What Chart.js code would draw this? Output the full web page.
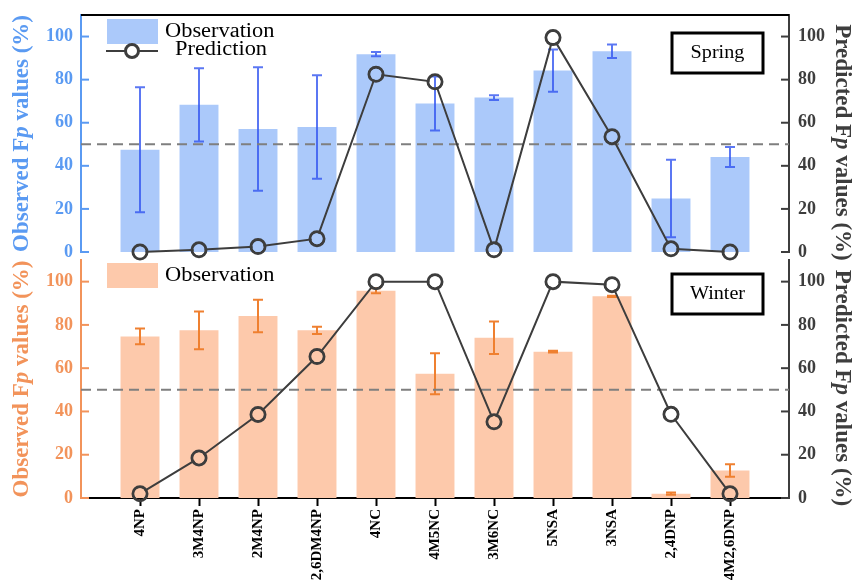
<!DOCTYPE html>
<html>
<head>
<meta charset="utf-8">
<script src="https://cdn.jsdelivr.net/npm/chart.js@4.4.0/dist/chart.umd.min.js"></script>
<style>
  body { margin: 0; background: #fff; }
  canvas { position: absolute; left: 0; }
  #top { top: 0; }
  #bottom { top: 246px; }
</style>
</head>
<body>
<canvas id="top" width="853" height="264"></canvas>
<canvas id="bottom" width="853" height="337"></canvas>
<script>
// data
var categories = ['4NP', '3M4NP', '2M4NP', '2,6DM4NP', '4NC', '4M5NC', '3M6NC', '5NSA', '3NSA', '2,4DNP', '4M2,6DNP'];
var springObs  = [47.5, 68.3, 57.1, 58.0, 91.8, 68.9, 71.7, 84.2, 93.2, 24.8, 44.1];
var springErr  = [29.0, 17.0, 28.7, 24.0, 1.0, 12.5, 1.1, 9.8, 3.1, 18.0, 4.6];
var springPred = [0, 1.0, 2.5, 6.2, 82.5, 79, 1.0, 99.5, 53.5, 1.5, 0];
var winterObs  = [74.7, 77.5, 84.1, 77.5, 95.8, 57.4, 74.1, 67.6, 93.2, 2.0, 12.7];
var winterErr  = [3.6, 8.7, 7.5, 1.7, 1.2, 9.5, 7.5, 0.4, 0.3, 0.5, 2.9];
var winterPred = [2, 18.5, 38.6, 65.4, 100, 100, 35.2, 100, 98.6, 38.7, 2];
var yTicks = [0, 20, 40, 60, 80, 100];
var threshold = 50;

var serif = "'Liberation Serif', 'Times New Roman', serif";
var dark = '#3d3d3d';
Chart.defaults.font.family = serif;

// empty slot at each end so the categories sit one step in from the axes
function pad(a) { return [null].concat(a, [null]); }

function drawTitle(ctx, x, y, rot, color, parts, size) {
  ctx.save();
  ctx.translate(x, y);
  ctx.rotate(rot);
  ctx.fillStyle = color;
  ctx.textBaseline = 'middle';
  ctx.textAlign = 'left';
  var fonts = [], widths = [], total = 0;
  parts.forEach(function (p, i) {
    fonts[i] = (p[1] ? 'italic ' : '') + 'bold ' + size + 'px ' + serif;
    ctx.font = fonts[i];
    widths[i] = ctx.measureText(p[0]).width;
    total += widths[i];
  });
  var cx = -total / 2;
  parts.forEach(function (p, i) {
    ctx.font = fonts[i];
    ctx.fillText(p[0], cx, 0);
    cx += widths[i];
  });
  ctx.restore();
}

function stretchText(ctx, text, x, y, size, align) {
  ctx.save();
  ctx.translate(x, y);
  ctx.scale(1.12, 1);
  ctx.font = size + 'px ' + serif;
  ctx.fillStyle = '#000';
  ctx.textAlign = align;
  ctx.textBaseline = 'middle';
  ctx.fillText(text, 0, 0);
  ctx.restore();
}

function ring(ctx, x, y, r) {
  ctx.beginPath();
  ctx.arc(x, y, r, 0, Math.PI * 2);
  ctx.stroke();
}

var decor = {
  id: 'decor',
  beforeDatasetDraw: function (chart, args) {
    if (args.meta.type !== 'line') return;
    // keep the connecting line out of the open circles
    var ds = chart.data.datasets[args.index];
    var r = ds.pointRadius - ds.pointBorderWidth / 2;
    var ctx = chart.ctx;
    ctx.save();
    ctx.beginPath();
    ctx.rect(0, 0, chart.width, chart.height);
    args.meta.data.forEach(function (p) {
      if (isFinite(p.x) && isFinite(p.y)) {
        ctx.moveTo(p.x + r, p.y);
        ctx.arc(p.x, p.y, r, 0, Math.PI * 2);
      }
    });
    ctx.clip('evenodd');
  },
  afterDatasetDraw: function (chart, args, opts) {
    var ctx = chart.ctx;
    if (args.meta.type === 'line') { ctx.restore(); return; }
    var ds = chart.data.datasets[args.index];
    var y = chart.scales.y;
    var a = chart.chartArea;
    ctx.save();
    ctx.strokeStyle = opts.errColor;
    ctx.lineWidth = 2;
    args.meta.data.forEach(function (bar, i) {
      var v = ds.data[i], e = ds.errors[i];
      if (v == null) return;
      var t = y.getPixelForValue(v + e), b = y.getPixelForValue(v - e);
      ctx.beginPath();
      ctx.moveTo(bar.x, t); ctx.lineTo(bar.x, b);
      ctx.moveTo(bar.x - 5, t); ctx.lineTo(bar.x + 5, t);
      ctx.moveTo(bar.x - 5, b); ctx.lineTo(bar.x + 5, b);
      ctx.stroke();
    });
    var ty = y.getPixelForValue(threshold);
    ctx.strokeStyle = '#7f7f7f';
    ctx.setLineDash([10, 6]);
    ctx.beginPath();
    ctx.moveTo(a.left, ty); ctx.lineTo(a.right, ty);
    ctx.stroke();
    ctx.restore();
  },
  afterDraw: function (chart, args, opts) {
    var ctx = chart.ctx, a = chart.chartArea;
    ctx.save();
    // inward tick marks on both y axes
    ['y', 'y2'].forEach(function (id) {
      var s = chart.scales[id], left = s.position === 'left';
      var edge = left ? s.right : s.left;
      ctx.strokeStyle = s.options.border.color;
      ctx.lineWidth = 2;
      s.ticks.forEach(function (t) {
        if (t.value > 100) return;
        var len = yTicks.indexOf(t.value) >= 0 ? 8 : 5;
        var py = s.getPixelForValue(t.value);
        ctx.beginPath();
        ctx.moveTo(edge, py);
        ctx.lineTo(left ? edge + len : edge - len, py);
        ctx.stroke();
      });
    });
    if (opts.topFrame) {
      ctx.strokeStyle = '#000';
      ctx.lineWidth = 2;
      ctx.beginPath();
      ctx.moveTo(a.left, a.top); ctx.lineTo(a.right, a.top);
      ctx.stroke();
    }
    // legend
    var ly = a.top + opts.legendDY;
    ctx.fillStyle = chart.data.datasets[0].backgroundColor;
    ctx.fillRect(a.left + 26, ly, 51, 25);
    stretchText(ctx, 'Observation', a.left + 84, ly + 13, 20, 'left');
    if (opts.showPrediction) {
      var line = chart.data.datasets[1];
      var py = ly + 32, cx = a.left + 51, r = line.pointRadius;
      ctx.strokeStyle = dark;
      ctx.lineWidth = 2;
      ctx.beginPath();
      ctx.moveTo(a.left + 25, py); ctx.lineTo(cx - r, py);
      ctx.moveTo(cx + r, py); ctx.lineTo(a.left + 77, py);
      ctx.stroke();
      ctx.lineWidth = line.pointBorderWidth;
      ring(ctx, cx, py, r - 0.5);
      stretchText(ctx, 'Prediction', a.left + 94, py - 1, 20, 'left');
    }
    // season box
    var bx = a.right - 117, by = a.top + opts.seasonDY;
    ctx.strokeStyle = '#000';
    ctx.lineWidth = 3;
    ctx.strokeRect(bx, by, 91, 40);
    stretchText(ctx, opts.season, bx + 45.5, by + 20, 18, 'center');
    // axis titles
    var mid = (a.top + a.bottom) / 2;
    drawTitle(ctx, 22, mid, -Math.PI / 2, opts.axisColor,
      [['Observed F', false], ['p', true], [' values (%)', false]], 23);
    drawTitle(ctx, 842, mid + 9, Math.PI / 2, dark,
      [['Predicted F', false], ['p', true], [' values (%)', false]], 23);
    ctx.restore();
  }
};

function yAxis(pos, color, width) {
  return {
    position: pos,
    min: 0,
    max: 110,
    // fixed width, and no extra room for the end labels
    afterFit: function (s) { s.width = width; s.paddingTop = 0; s.paddingBottom = 0; },
    ticks: {
      stepSize: 10,
      padding: pos === 'left' ? 8 : 9,
      color: color,
      font: { size: 18, weight: 'bold' },
      callback: function (v) { return yTicks.indexOf(v) >= 0 ? v : ''; }
    },
    grid: { display: false, drawTicks: false },
    border: { color: color, width: 2 }
  };
}

function makeChart(id, obs, err, pred, look) {
  var xAxis = look.showX ? {
    offset: false,
    afterFit: function (s) { s.height = 85; s.paddingLeft = 0; s.paddingRight = 0; },
    grid: { offset: false, drawOnChartArea: false, tickLength: 8, tickColor: '#000', tickWidth: 2 },
    border: { color: '#000', width: 2 },
    ticks: { autoSkip: false, minRotation: 90, maxRotation: 90, padding: 3, color: '#000',
             font: { size: 15, weight: 'bold' } }
  } : { display: false, offset: false, grid: { offset: false } };

  return new Chart(document.getElementById(id), {
    type: 'bar',
    data: {
      labels: pad(categories),
      datasets: [{
        type: 'bar',
        label: 'Observation',
        data: pad(obs),
        errors: pad(err),
        backgroundColor: look.barColor,
        barPercentage: 0.66,
        categoryPercentage: 1,
        yAxisID: 'y',
        order: 2
      }, {
        type: 'line',
        label: 'Prediction',
        data: pad(pred),
        yAxisID: 'y2',
        borderColor: dark,
        borderWidth: 2,
        pointRadius: 7,
        pointBorderWidth: 3,
        pointBorderColor: dark,
        pointBackgroundColor: 'rgba(0,0,0,0)',
        clip: false,
        order: 1
      }]
    },
    options: {
      responsive: false,
      animation: false,
      events: [],
      layout: { padding: look.padding },
      scales: {
        x: xAxis,
        y: yAxis('left', look.axisColor, 81),
        y2: yAxis('right', dark, 64)
      },
      plugins: {
        legend: { display: false },
        tooltip: { enabled: false },
        decor: look.decor
      }
    },
    plugins: [decor]
  });
}

makeChart('top', springObs, springErr, springPred, {
  showX: false,
  barColor: '#abc9fa',
  axisColor: '#5a9af2',
  padding: { top: 15, bottom: 12, left: 0, right: 0 },
  decor: { errColor: 'rgba(50,85,240,0.8)', axisColor: '#5a9af2', topFrame: true,
           legendDY: 4, showPrediction: true, season: 'Spring', seasonDY: 18 }
});

makeChart('bottom', winterObs, winterErr, winterPred, {
  showX: true,
  barColor: '#fdc9ab',
  axisColor: '#f2935a',
  padding: { top: 14, bottom: 0, left: 0, right: 0 },
  decor: { errColor: '#ef8030', axisColor: '#f2935a', topFrame: false,
           legendDY: 3, showPrediction: false, season: 'Winter', seasonDY: 14 }
});
</script>
</body>
</html>
